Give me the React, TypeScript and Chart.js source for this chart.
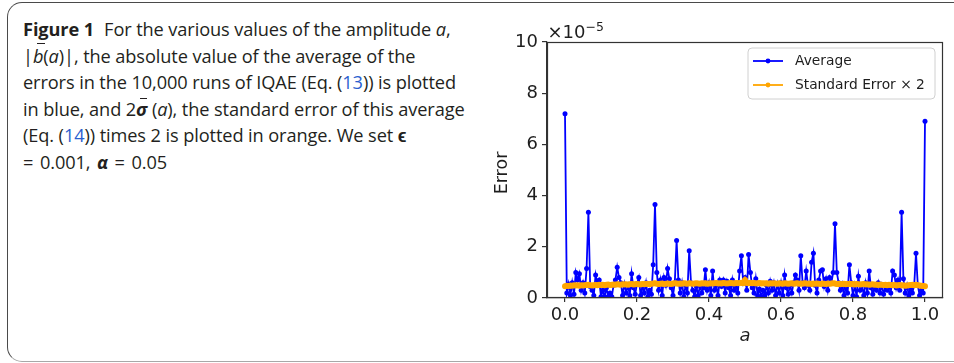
import React, { useEffect, useRef } from 'react';
import { Chart, registerables } from 'chart.js';

Chart.register(...registerables);

// amplitude grid step (a from 0 to 1)
const A_STEP = 0.005;

// |b̄(a)| in units of 1e-5
const AVERAGE = [
  7.2, 0.2, 0.55, 0.1, 0.6, 0.15, 1.0, 0.7, 0.95, 0.3,
  0.6, 0.2, 1.15, 3.35, 0.45, 0.3, 0.1, 0.9, 0.55, 0.7,
  0.05, 0.3, 0.05, 0.4, 0.05, 0.2, 0.05, 0.5, 0.7, 1.2,
  0.8, 0.6, 0.1, 0.55, 0.2, 0.5, 0.1, 0.95, 0.4, 0.15,
  0.55, 0.8, 0.1, 0.45, 0.2, 0.6, 0.05, 0.3, 0.15, 1.3,
  3.65, 1.0, 0.3, 0.7, 0.1, 0.8, 0.5, 1.15, 0.75, 0.4,
  0.1, 0.6, 2.25, 0.7, 0.2, 0.6, 0.05, 0.5, 0.2, 1.85,
  0.6, 0.3, 0.05, 0.45, 0.1, 0.5, 0.2, 0.4, 1.1, 0.3,
  0.6, 0.1, 1.05, 0.3, 0.5, 0.1, 0.7, 0.45, 0.7, 0.2,
  0.65, 0.4, 0.1, 0.7, 0.3, 0.5, 0.2, 1.05, 1.65, 0.6,
  0.8, 0.3, 1.7, 1.0, 0.4, 0.2, 0.75, 0.1, 0.35, 0.05,
  0.3, 0.1, 0.5, 0.2, 0.65, 0.3, 0.6, 0.1, 0.55, 0.2,
  0.6, 0.1, 0.9, 0.4, 0.15, 0.5, 0.2, 0.6, 0.9, 0.7,
  0.3, 1.65, 0.6, 0.4, 1.05, 0.5, 0.3, 1.4, 1.75, 0.5,
  0.2, 0.7, 1.05, 1.1, 0.45, 0.75, 0.3, 0.8, 0.6, 1.0,
  2.9, 1.0, 0.6, 0.3, 0.55, 0.1, 0.4, 0.2, 1.3, 0.6,
  0.1, 0.5, 0.05, 0.85, 0.3, 0.5, 0.1, 0.6, 0.2, 1.05,
  0.4, 0.15, 0.5, 0.3, 0.6, 0.2, 0.5, 0.15, 0.45, 0.3,
  0.5, 0.2, 1.05, 0.9, 0.4, 0.7, 0.3, 3.35, 0.75, 0.2,
  0.5, 0.1, 0.35, 0.2, 0.5, 1.75, 0.5, 0.1, 0.3, 0.2,
  6.9,
];

// 2 × standard error, in units of 1e-5
const STD_ERR_X2 = [
  0.46, 0.48, 0.47, 0.49, 0.48, 0.50, 0.49, 0.50, 0.48, 0.50,
  0.49, 0.50, 0.51, 0.52, 0.50, 0.49, 0.50, 0.51, 0.50, 0.52,
  0.51, 0.52, 0.50, 0.52, 0.53, 0.51, 0.52, 0.53, 0.52, 0.54,
  0.53, 0.52, 0.54, 0.53, 0.54, 0.52, 0.54, 0.55, 0.53, 0.54,
  0.55, 0.54, 0.53, 0.55, 0.54, 0.56, 0.55, 0.54, 0.56, 0.57,
  0.58, 0.56, 0.55, 0.56, 0.57, 0.55, 0.56, 0.57, 0.56, 0.55,
  0.57, 0.58, 0.57, 0.56, 0.57, 0.56, 0.58, 0.57, 0.56, 0.58,
  0.57, 0.56, 0.57, 0.58, 0.57, 0.56, 0.58, 0.57, 0.58, 0.56,
  0.57, 0.58, 0.57, 0.58, 0.59, 0.57, 0.58, 0.57, 0.59, 0.58,
  0.57, 0.58, 0.59, 0.58, 0.57, 0.59, 0.58, 0.59, 0.60, 0.58,
  0.70, 0.59, 0.58, 0.60, 0.58, 0.59, 0.57, 0.58, 0.59, 0.57,
  0.58, 0.57, 0.58, 0.56, 0.58, 0.57, 0.58, 0.57, 0.56, 0.58,
  0.57, 0.56, 0.58, 0.57, 0.56, 0.57, 0.58, 0.56, 0.57, 0.58,
  0.56, 0.57, 0.56, 0.58, 0.57, 0.56, 0.57, 0.55, 0.57, 0.56,
  0.57, 0.56, 0.55, 0.57, 0.56, 0.55, 0.57, 0.56, 0.57, 0.58,
  0.57, 0.55, 0.56, 0.54, 0.55, 0.56, 0.54, 0.55, 0.56, 0.54,
  0.55, 0.53, 0.55, 0.54, 0.53, 0.54, 0.55, 0.53, 0.54, 0.52,
  0.53, 0.54, 0.52, 0.53, 0.51, 0.53, 0.52, 0.51, 0.52, 0.50,
  0.52, 0.51, 0.50, 0.51, 0.49, 0.50, 0.51, 0.49, 0.50, 0.48,
  0.49, 0.50, 0.51, 0.52, 0.50, 0.52, 0.50, 0.49, 0.48, 0.47,
  0.46,
];

const AMPLITUDE = AVERAGE.map((_, i) => +(i * A_STEP).toFixed(3));
const X_TICKS = [0, 0.2, 0.4, 0.6, 0.8, 1.0];
const Y_TICKS = [0, 2, 4, 6, 8, 10];
const SERIES_LABELS = ['Average', 'Standard Error \u00d7 2'];
const SERIES_COLORS = ['#0000ff', '#ffa500'];

const TEXT = '#1e1e1e';
const FONT = '"DejaVu Sans", sans-serif';

const overlayPlugin = {
  id: 'overlay',
  afterDraw(chart: any) {
    const { ctx, chartArea: ca } = chart;
    ctx.save();
    // frame
    ctx.strokeStyle = '#333';
    ctx.lineWidth = 1.2;
    const l = Math.round(ca.left) + 0.5;
    const t = Math.round(ca.top) + 0.5;
    const r = Math.round(ca.right) - 0.5;
    const b = Math.round(ca.bottom) - 0.5;
    ctx.strokeRect(l, t, r - l, b - t);

    ctx.fillStyle = TEXT;
    // offset text
    ctx.textAlign = 'left';
    ctx.textBaseline = 'alphabetic';
    ctx.font = `18px ${FONT}`;
    ctx.fillText('\u00d710', ca.left + 0.5, 37.5);
    const w = ctx.measureText('\u00d710').width;
    ctx.font = `12.5px ${FONT}`;
    ctx.fillText('\u22125', ca.left + 0.5 + w, 31);

    // y title
    ctx.save();
    ctx.translate(22, (ca.top + ca.bottom) / 2 + 3);
    ctx.rotate(-Math.PI / 2);
    ctx.font = `17.5px ${FONT}`;
    ctx.textAlign = 'center';
    ctx.textBaseline = 'middle';
    ctx.fillText('Error', 0, 0);
    ctx.restore();

    // x title
    ctx.font = `italic 18px ${FONT}`;
    ctx.textAlign = 'center';
    ctx.textBaseline = 'middle';
    ctx.fillText('a', (ca.left + ca.right) / 2, 336);

    // legend
    const bx = 268, by = 48, bw = 187, bh = 51, rad = 4;
    ctx.beginPath();
    ctx.moveTo(bx + rad, by);
    ctx.arcTo(bx + bw, by, bx + bw, by + bh, rad);
    ctx.arcTo(bx + bw, by + bh, bx, by + bh, rad);
    ctx.arcTo(bx, by + bh, bx, by, rad);
    ctx.arcTo(bx, by, bx + bw, by, rad);
    ctx.closePath();
    ctx.fillStyle = 'rgba(255,255,255,0.8)';
    ctx.fill();
    ctx.strokeStyle = '#d0d0d0';
    ctx.lineWidth = 1;
    ctx.stroke();

    const rows = [61, 85];
    SERIES_LABELS.forEach((label, i) => {
      const y = rows[i];
      ctx.strokeStyle = SERIES_COLORS[i];
      ctx.lineWidth = 1.8;
      ctx.beginPath();
      ctx.moveTo(273, y);
      ctx.lineTo(303, y);
      ctx.stroke();
      ctx.fillStyle = SERIES_COLORS[i];
      ctx.beginPath();
      ctx.arc(288, y, 2.4, 0, Math.PI * 2);
      ctx.fill();
      ctx.fillStyle = TEXT;
      ctx.font = `13.8px ${FONT}`;
      ctx.textAlign = 'left';
      ctx.textBaseline = 'middle';
      ctx.fillText(label, 315, y + 0.5);
    });
    ctx.restore();
  },
};

function ChartPanel() {
  const ref = useRef<HTMLCanvasElement | null>(null);
  useEffect(() => {
    if (!ref.current) return;
    const chart = new Chart(ref.current, {
      type: 'line',
      data: {
        datasets: [
          {
            label: SERIES_LABELS[0],
            data: AMPLITUDE.map((a, i) => ({ x: a, y: AVERAGE[i] })),
            borderColor: SERIES_COLORS[0],
            backgroundColor: SERIES_COLORS[0],
            borderWidth: 1.8,
            pointRadius: 2.5,
            pointBorderWidth: 0,
            pointBackgroundColor: SERIES_COLORS[0],
            tension: 0,
            order: 1,
          },
          {
            label: SERIES_LABELS[1],
            data: AMPLITUDE.map((a, i) => ({ x: a, y: STD_ERR_X2[i] })),
            borderColor: SERIES_COLORS[1],
            backgroundColor: SERIES_COLORS[1],
            borderWidth: 4.5,
            pointRadius: 3,
            pointBorderWidth: 0,
            pointBackgroundColor: SERIES_COLORS[1],
            tension: 0,
            order: 0,
          },
        ],
      },
      options: {
        responsive: false,
        animation: false,
        events: [],
        layout: { padding: { top: 42, right: 11, left: 0, bottom: 0 } },
        plugins: { legend: { display: false }, tooltip: { enabled: false } },
        scales: {
          x: {
            type: 'linear',
            min: -0.05,
            max: 1.05,
            afterBuildTicks: (s: any) => {
              s.ticks = X_TICKS.map((v) => ({ value: v }));
            },
            afterFit: (s: any) => {
              s.height = 65;
            },
            ticks: {
              callback: (v: any) => Number(v).toFixed(1),
              font: { family: FONT, size: 18 },
              color: TEXT,
              padding: 3,
              maxRotation: 0,
              autoSkip: false,
            },
            grid: { display: true, drawOnChartArea: false, drawTicks: true, tickLength: 4, color: '#333', lineWidth: 1.2 },
            border: { display: true, color: '#333', width: 1.2 },
          },
          y: {
            type: 'linear',
            min: 0,
            max: 10,
            afterBuildTicks: (s: any) => {
              s.ticks = Y_TICKS.map((v) => ({ value: v }));
            },
            afterFit: (s: any) => {
              s.width = 67;
            },
            ticks: {
              callback: (v: any) => String(v),
              font: { family: FONT, size: 18 },
              color: TEXT,
              padding: 4,
            },
            grid: { display: true, drawOnChartArea: false, drawTicks: true, tickLength: 5, color: '#333', lineWidth: 1.2 },
            border: { display: true, color: '#333', width: 1.2 },
          },
        },
      },
      plugins: [overlayPlugin],
    } as any);
    return () => chart.destroy();
  }, []);
  return (
    <canvas
      ref={ref}
      width={474}
      height={363}
      style={{ position: 'absolute', left: 480, top: 0, width: 474, height: 363 }}
    />
  );
}

const barStyle = (w: string, left: string, top: string): React.CSSProperties => ({
  position: 'absolute',
  left,
  top,
  width: w,
  height: 0,
  borderTop: '1.5px solid currentColor',
});

export default function App() {
  const blue = '#2b5fcf';
  return (
    <div style={{ position: 'fixed', left: 0, top: 0, width: 954, height: 363, overflow: 'hidden', background: '#fff' }}>
      <div
        style={{
          position: 'absolute',
          left: 7,
          top: 2,
          width: 1100,
          height: 358,
          border: '1.5px solid #4a4a4a',
          borderBottomColor: '#a8a8a8',
          borderRadius: 15,
        }}
      />
      <div
        style={{
          position: 'absolute',
          left: 23,
          top: 16,
          fontFamily: '"Open Sans", sans-serif',
          fontSize: 18.2,
          lineHeight: '26.6px',
          color: '#231f20',
          whiteSpace: 'nowrap',
          letterSpacing: '-0.1px',
        }}
      >
        <div>
          <b style={{ marginRight: 10 }}>Figure 1</b>For the various values of the amplitude <i>a</i>,
        </div>
        <div>
          |<i style={{ position: 'relative', display: 'inline-block' }}>b<span style={barStyle('0.42em', '0.24em', '0.02em')} /></i>(<i>a</i>)|, the absolute value of the average of the
        </div>
        <div>
          errors in the 10,000 runs of IQAE (Eq. (<span style={{ color: blue }}>13</span>)) is plotted
        </div>
        <div>
          in blue, and 2<b style={{ position: 'relative', display: 'inline-block', fontStyle: 'italic' }}>σ<span style={barStyle('0.4em', '0.2em', '0.1em')} /></b> (<i>a</i>), the standard error of this average
        </div>
        <div>
          (Eq. (<span style={{ color: blue }}>14</span>)) times 2 is plotted in orange. We set <b>ϵ</b>
        </div>
        <div style={{ wordSpacing: '2px' }}>
          = 0.001, <b><i>α</i></b> = 0.05
        </div>
      </div>
      <ChartPanel />
    </div>
  );
}
